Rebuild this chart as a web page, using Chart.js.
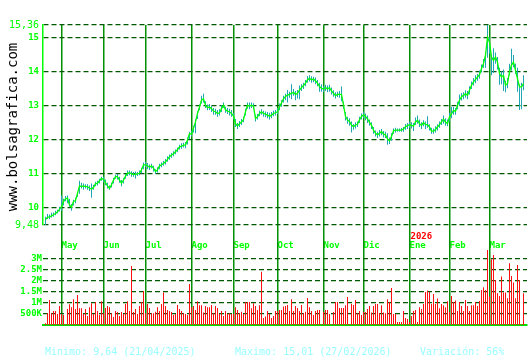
<!DOCTYPE html>
<html>
<head>
<meta charset="utf-8">
<script src="https://cdn.jsdelivr.net/npm/chart.js@4.4.1/dist/chart.umd.min.js"></script>
<style>
  body { margin: 0; background: #fff; }
  #wrap { position: relative; width: 530px; height: 360px; overflow: hidden; }
  #wrap canvas { position: absolute; left: 0; top: 0; }
  #site {
    position: absolute; left: -88px; top: 119px; width: 200px;
    text-align: center; transform: rotate(-90deg);
    font: 14px "DejaVu Sans Mono", monospace; color: #000; white-space: nowrap;
  }
  .stat {
    position: absolute; top: 346px; line-height: 12px;
    font: 10px "DejaVu Sans Mono", monospace; color: #99ffff; white-space: pre;
  }
</style>
</head>
<body>
<div id="wrap">
  <canvas id="price" width="530" height="360"></canvas>
  <canvas id="volume" width="530" height="360"></canvas>
  <div id="site">www.bolsagrafica.com</div>
  <div class="stat" style="left:45px">Minimo: 9,64 (21/04/2025)</div>
  <div class="stat" style="left:235px">Maximo: 15,01 (27/02/2026)</div>
  <div class="stat" style="left:420px">Variación: 56%</div>
</div>
<script>
// one bar per trading session, 21/04/2025 .. mid 03/2026
const monthNames = ['May', 'Jun', 'Jul', 'Ago', 'Sep', 'Oct', 'Nov', 'Dic', 'Ene', 'Feb', 'Mar'];
const monthStart = [8, 29, 50, 73, 94, 116, 139, 159, 182, 202, 222];
const yearIdx = 8; // "2026" sits over Ene

const priceTicks = [9.48, 10, 11, 12, 13, 14, 15, 15.36];
const priceTickLabels = ['9,48', '10', '11', '12', '13', '14', '15', '15,36'];
const volTicks = [0.5, 1, 1.5, 2, 2.5, 3];
const volTickLabels = ['500K', '1M', '1.5M', '2M', '2.5M', '3M'];

const closes = [
  9.64, 9.71, 9.71, 9.75, 9.78, 9.82, 9.87, 9.94, 10.02, 10.17,
  10.25, 10.27, 10.07, 10.00, 10.17, 10.20, 10.41, 10.63, 10.61, 10.63,
  10.61, 10.61, 10.56, 10.53, 10.59, 10.69, 10.71, 10.78, 10.85, 10.82,
  10.73, 10.63, 10.56, 10.66, 10.80, 10.90, 10.90, 10.80, 10.71, 10.80,
  10.92, 11.00, 11.02, 10.98, 10.97, 10.97, 10.98, 11.00, 11.10, 11.25,
  11.25, 11.22, 11.18, 11.22, 11.15, 11.05, 11.10, 11.22, 11.25, 11.29,
  11.34, 11.41, 11.49, 11.54, 11.57, 11.64, 11.69, 11.78, 11.80, 11.83,
  11.83, 11.98, 12.17, 12.15, 12.32, 12.51, 12.76, 12.95, 13.15, 13.19,
  13.00, 12.93, 12.95, 12.90, 12.83, 12.81, 12.76, 12.78, 12.90, 13.00,
  12.87, 12.83, 12.81, 12.76, 12.68, 12.46, 12.39, 12.46, 12.51, 12.58,
  12.81, 13.00, 12.97, 13.00, 12.97, 12.61, 12.66, 12.76, 12.81, 12.76,
  12.74, 12.71, 12.68, 12.71, 12.76, 12.78, 12.81, 12.95, 13.07, 13.19,
  13.26, 13.30, 13.32, 13.35, 13.38, 13.32, 13.35, 13.45, 13.52, 13.58,
  13.65, 13.75, 13.79, 13.75, 13.77, 13.72, 13.65, 13.55, 13.50, 13.48,
  13.52, 13.48, 13.52, 13.42, 13.35, 13.28, 13.32, 13.32, 13.32, 13.01,
  12.67, 12.57, 12.52, 12.42, 12.37, 12.42, 12.44, 12.57, 12.67, 12.72,
  12.67, 12.60, 12.50, 12.42, 12.27, 12.18, 12.13, 12.18, 12.23, 12.15,
  12.13, 12.01, 11.95, 12.08, 12.25, 12.27, 12.27, 12.27, 12.27, 12.30,
  12.37, 12.40, 12.43, 12.41, 12.39, 12.51, 12.56, 12.46, 12.41, 12.49,
  12.43, 12.43, 12.36, 12.24, 12.24, 12.29, 12.36, 12.43, 12.51, 12.59,
  12.51, 12.46, 12.66, 12.75, 12.85, 12.82, 13.00, 13.15, 13.25, 13.29,
  13.34, 13.29, 13.44, 13.59, 13.69, 13.76, 13.83, 13.90, 14.08, 14.23,
  14.47, 15.00, 14.85, 14.42, 14.32, 14.42, 14.27, 13.93, 13.83, 13.88,
  13.59, 13.64, 13.98, 14.18, 14.27, 14.03, 13.78, 13.54, 13.54, 13.64
];

const highs = [
  9.72, 9.80, 9.79, 9.84, 9.85, 9.90, 9.93, 10.02, 10.35, 10.25,
  10.33, 10.35, 10.25, 10.10, 10.22, 10.28, 10.45, 10.78, 10.72, 10.70,
  10.68, 10.68, 10.64, 10.70, 10.66, 10.75, 10.78, 10.84, 10.90, 10.90,
  10.82, 10.72, 10.64, 10.72, 10.86, 10.96, 10.98, 10.90, 10.80, 10.86,
  10.98, 11.08, 11.08, 11.06, 11.04, 11.05, 11.04, 11.08, 11.16, 11.32,
  11.34, 11.30, 11.26, 11.28, 11.22, 11.12, 11.18, 11.28, 11.32, 11.36,
  11.42, 11.50, 11.55, 11.60, 11.65, 11.70, 11.76, 11.84, 11.88, 11.90,
  11.92, 12.05, 12.22, 12.25, 12.40, 12.58, 12.82, 13.02, 13.28, 13.34,
  13.12, 13.02, 13.04, 12.98, 12.92, 12.90, 12.86, 12.88, 13.00, 13.08,
  12.96, 12.92, 12.90, 12.86, 12.78, 12.60, 12.48, 12.54, 12.60, 12.66,
  12.90, 13.08, 13.08, 13.08, 13.06, 12.72, 12.74, 12.84, 12.88, 12.84,
  12.82, 12.80, 12.78, 12.80, 12.84, 12.86, 12.92, 13.05, 13.15, 13.28,
  13.34, 13.45, 13.40, 13.62, 13.48, 13.42, 13.45, 13.58, 13.62, 13.66,
  13.74, 13.86, 13.88, 13.85, 13.84, 13.82, 13.74, 13.66, 13.62, 13.56,
  13.60, 13.58, 13.60, 13.52, 13.44, 13.38, 13.40, 13.42, 13.55, 13.10,
  12.80, 12.66, 12.62, 12.52, 12.45, 12.50, 12.52, 12.66, 12.76, 12.82,
  12.76, 12.70, 12.58, 12.50, 12.36, 12.26, 12.22, 12.27, 12.30, 12.24,
  12.22, 12.18, 12.05, 12.18, 12.32, 12.34, 12.32, 12.32, 12.33, 12.36,
  12.45, 12.48, 12.52, 12.50, 12.48, 12.64, 12.70, 12.58, 12.50, 12.56,
  12.52, 12.68, 12.44, 12.34, 12.32, 12.38, 12.44, 12.52, 12.60, 12.70,
  12.62, 12.58, 12.78, 12.96, 12.95, 12.92, 13.10, 13.32, 13.36, 13.38,
  13.44, 13.42, 13.56, 13.70, 13.80, 13.88, 13.92, 14.02, 14.20, 14.36,
  14.56, 15.36, 15.00, 14.50, 14.68, 14.55, 14.42, 14.10, 14.00, 14.05,
  13.72, 13.80, 14.22, 14.66, 14.48, 14.22, 14.10, 13.62, 13.66, 13.88
];

const lows = [
  9.48, 9.66, 9.65, 9.70, 9.72, 9.77, 9.82, 9.88, 9.90, 10.05,
  10.18, 10.12, 10.02, 9.90, 10.05, 10.12, 10.30, 10.40, 10.55, 10.52,
  10.55, 10.52, 10.48, 10.28, 10.52, 10.62, 10.64, 10.70, 10.78, 10.74,
  10.65, 10.55, 10.52, 10.58, 10.70, 10.84, 10.82, 10.72, 10.62, 10.70,
  10.84, 10.92, 10.94, 10.90, 10.90, 10.85, 10.92, 10.94, 11.00, 11.12,
  11.18, 11.12, 11.10, 11.14, 11.05, 10.98, 11.02, 11.12, 11.18, 11.22,
  11.26, 11.34, 11.40, 11.46, 11.50, 11.56, 11.62, 11.70, 11.72, 11.76,
  11.74, 11.85, 12.00, 12.08, 12.20, 12.18, 12.60, 12.85, 13.05, 13.08,
  12.92, 12.85, 12.86, 12.80, 12.72, 12.72, 12.66, 12.70, 12.80, 12.92,
  12.78, 12.74, 12.70, 12.66, 12.58, 12.36, 12.30, 12.36, 12.42, 12.50,
  12.70, 12.90, 12.88, 12.92, 12.88, 12.52, 12.58, 12.68, 12.72, 12.66,
  12.65, 12.62, 12.58, 12.62, 12.68, 12.70, 12.74, 12.85, 12.96, 13.08,
  13.15, 13.08, 13.22, 13.18, 13.28, 13.15, 13.20, 13.18, 13.42, 13.48,
  13.56, 13.66, 13.70, 13.66, 13.68, 13.62, 13.56, 13.40, 13.40, 13.38,
  13.42, 13.38, 13.40, 13.32, 13.25, 13.20, 13.24, 13.22, 13.12, 12.90,
  12.55, 12.46, 12.40, 12.20, 12.28, 12.32, 12.36, 12.48, 12.58, 12.62,
  12.56, 12.48, 12.40, 12.30, 12.16, 12.08, 12.04, 12.08, 12.12, 12.05,
  12.04, 11.84, 11.86, 11.96, 12.16, 12.20, 12.22, 12.22, 12.22, 12.22,
  12.28, 12.30, 12.34, 12.32, 12.24, 12.42, 12.46, 12.36, 12.30, 12.38,
  12.30, 12.34, 12.26, 12.16, 12.16, 12.20, 12.26, 12.34, 12.42, 12.46,
  12.40, 12.38, 12.52, 12.62, 12.72, 12.72, 12.88, 12.98, 13.14, 13.18,
  13.22, 13.18, 13.32, 13.48, 13.58, 13.65, 13.72, 13.78, 13.96, 14.10,
  14.10, 14.40, 14.52, 13.88, 13.95, 14.22, 14.05, 13.60, 13.62, 13.42,
  13.38, 13.50, 13.88, 14.02, 14.12, 13.92, 13.40, 12.86, 12.88, 13.44
];

// volume in millions of shares
const volumes = [
  0.08, 0.53, 1.13, 0.53, 0.63, 0.63, 0.50, 0.86, 0.50, 0.45,
  0.03, 0.72, 0.93, 0.80, 1.16, 0.72, 1.35, 0.75, 0.75, 0.50,
  0.72, 0.40, 0.80, 0.98, 0.50, 1.04, 0.63, 0.45, 1.07, 0.53,
  0.77, 0.86, 0.80, 0.53, 0.36, 0.63, 0.59, 0.40, 0.59, 0.50,
  0.95, 1.07, 0.63, 2.66, 0.59, 0.72, 0.50, 0.86, 1.04, 1.53,
  0.53, 0.95, 0.77, 0.53, 0.53, 0.60, 0.80, 0.63, 0.95, 1.46,
  0.86, 0.68, 0.63, 0.59, 0.45, 0.50, 0.90, 0.72, 0.63, 0.53,
  0.50, 0.45, 1.85, 0.80, 0.86, 0.68, 1.07, 0.89, 0.89, 0.56,
  0.86, 0.80, 0.80, 0.90, 0.53, 0.86, 0.77, 0.50, 0.63, 0.40,
  0.63, 0.50, 0.53, 0.50, 0.50, 0.80, 0.68, 0.53, 0.60, 0.50,
  1.04, 1.04, 1.04, 0.75, 0.98, 0.86, 0.68, 0.89, 2.40, 0.32,
  0.38, 0.63, 0.50, 0.32, 0.40, 0.63, 0.63, 0.68, 0.68, 0.83,
  0.86, 0.90, 0.63, 1.16, 0.63, 0.86, 0.77, 0.63, 0.90, 0.53,
  0.60, 1.22, 0.80, 0.63, 0.45, 0.63, 0.68, 0.68, 0.03, 0.59,
  0.68, 0.68, 0.50, 0.03, 0.59, 1.04, 1.04, 0.77, 0.77, 0.77,
  0.89, 1.26, 0.05, 0.95, 0.90, 1.13, 0.53, 0.63, 0.45, 0.59,
  0.59, 0.72, 0.86, 0.56, 0.86, 0.95, 0.95, 0.53, 0.89, 0.56,
  0.53, 1.16, 1.04, 1.67, 0.50, 0.50, 0.14, 0.14, 0.14, 0.63,
  0.32, 0.27, 0.14, 0.40, 0.63, 0.68, 0.14, 0.80, 0.72, 0.95,
  1.49, 1.56, 1.49, 0.95, 1.40, 0.95, 1.19, 0.75, 0.95, 0.89,
  0.80, 1.07, 0.60, 1.31, 1.04, 1.10, 0.63, 1.04, 0.86, 0.63,
  1.13, 0.86, 0.63, 0.89, 0.89, 1.04, 0.86, 1.08, 1.58, 1.70,
  1.58, 3.38, 1.28, 2.96, 3.15, 2.03, 1.43, 1.31, 2.18, 1.46,
  1.46, 1.20, 2.78, 2.21, 1.91, 1.20, 2.70, 2.03, 0.03, 1.43
];

const mono = '"DejaVu Sans Mono", monospace';
const bright = '#00ff00';
const monthLine = '#009000';
const dashLine = '#005800';

const yearMark = {
  id: 'yearMark',
  afterDraw(chart) {
    const x = chart.scales.x.getPixelForValue(monthStart[yearIdx]);
    const ctx = chart.ctx;
    ctx.save();
    ctx.font = 'bold 9px ' + mono;
    ctx.fillStyle = '#ff0000';
    ctx.textBaseline = 'alphabetic';
    ctx.fillText('2026', x + 1, chart.chartArea.bottom + 14);
    ctx.restore();
  }
};

// 2px per session, bars land on whole pixels
const xCommon = {
  type: 'linear',
  min: -1.25,
  max: 240.75,
  offset: false,
  afterBuildTicks: s => { s.ticks = monthStart.map(v => ({ value: v })); }
};

new Chart(document.getElementById('price'), {
  type: 'bar',
  data: {
    datasets: [
      {
        type: 'line',
        data: closes.map((v, i) => ({ x: i, y: v })),
        borderColor: bright,
        borderWidth: 1.3,
        pointRadius: 0,
        tension: 0,
        order: 0
      },
      {
        type: 'bar',
        data: lows.map((v, i) => ({ x: i, y: [v, highs[i]] })),
        backgroundColor: '#1ea6b4',
        barThickness: 1,
        inflateAmount: 0,
        order: 1
      }
    ]
  },
  options: {
    responsive: false,
    animation: false,
    events: [],
    layout: { padding: { top: 25, right: 3, bottom: 108, left: 0 } },
    plugins: { legend: { display: false }, tooltip: { enabled: false } },
    scales: {
      x: {
        ...xCommon,
        afterFit: s => { s.height = 27; },
        grid: { offset: false, color: monthLine, lineWidth: 1.5, drawTicks: true, tickLength: 15 },
        border: { display: false },
        ticks: {
          callback: (v, idx) => monthNames[idx],
          align: 'start',
          autoSkip: false,
          maxRotation: 0,
          padding: 0,
          color: bright,
          font: { family: mono, size: 9, weight: 'bold' }
        }
      },
      y: {
        min: 9.48,
        max: 15.36,
        afterBuildTicks: s => { s.ticks = priceTicks.map(v => ({ value: v })); },
        afterFit: s => { s.width = 43; },
        grid: { color: dashLine, lineWidth: 1.2, drawTicks: false },
        border: { display: true, color: bright, width: 1.5, dash: [5, 3] },
        ticks: {
          callback: (v, idx) => priceTickLabels[idx],
          padding: 4,
          color: bright,
          font: ctx => (ctx.index === 0 || ctx.index === priceTicks.length - 1)
            ? { family: mono, size: 10 }
            : { family: mono, size: 9, weight: 'bold' }
        }
      }
    }
  },
  plugins: [yearMark]
});

new Chart(document.getElementById('volume'), {
  type: 'bar',
  data: {
    datasets: [{
      data: volumes.map((v, i) => ({ x: i, y: v })),
      backgroundColor: '#ff1010',
      barThickness: 1,
      inflateAmount: 0
    }]
  },
  options: {
    responsive: false,
    animation: false,
    events: [],
    layout: { padding: { top: 240, right: 3, bottom: 35, left: 0 } },
    plugins: { legend: { display: false }, tooltip: { enabled: false } },
    scales: {
      x: {
        ...xCommon,
        afterFit: s => { s.height = 0; },
        grid: { offset: false, color: monthLine, lineWidth: 1.5, drawTicks: false },
        border: { display: true, color: '#00dd00', width: 2 },
        ticks: { display: false }
      },
      y: {
        min: 0,
        max: 3.83,
        afterBuildTicks: s => { s.ticks = volTicks.map(v => ({ value: v })); },
        afterFit: s => { s.width = 43; },
        grid: { color: dashLine, lineWidth: 1.2, drawTicks: false },
        border: { display: false, dash: [5, 3] },
        ticks: {
          callback: (v, idx) => volTickLabels[idx],
          padding: 1,
          color: bright,
          font: { family: mono, size: 9, weight: 'bold' }
        }
      }
    }
  }
});
</script>
</body>
</html>
